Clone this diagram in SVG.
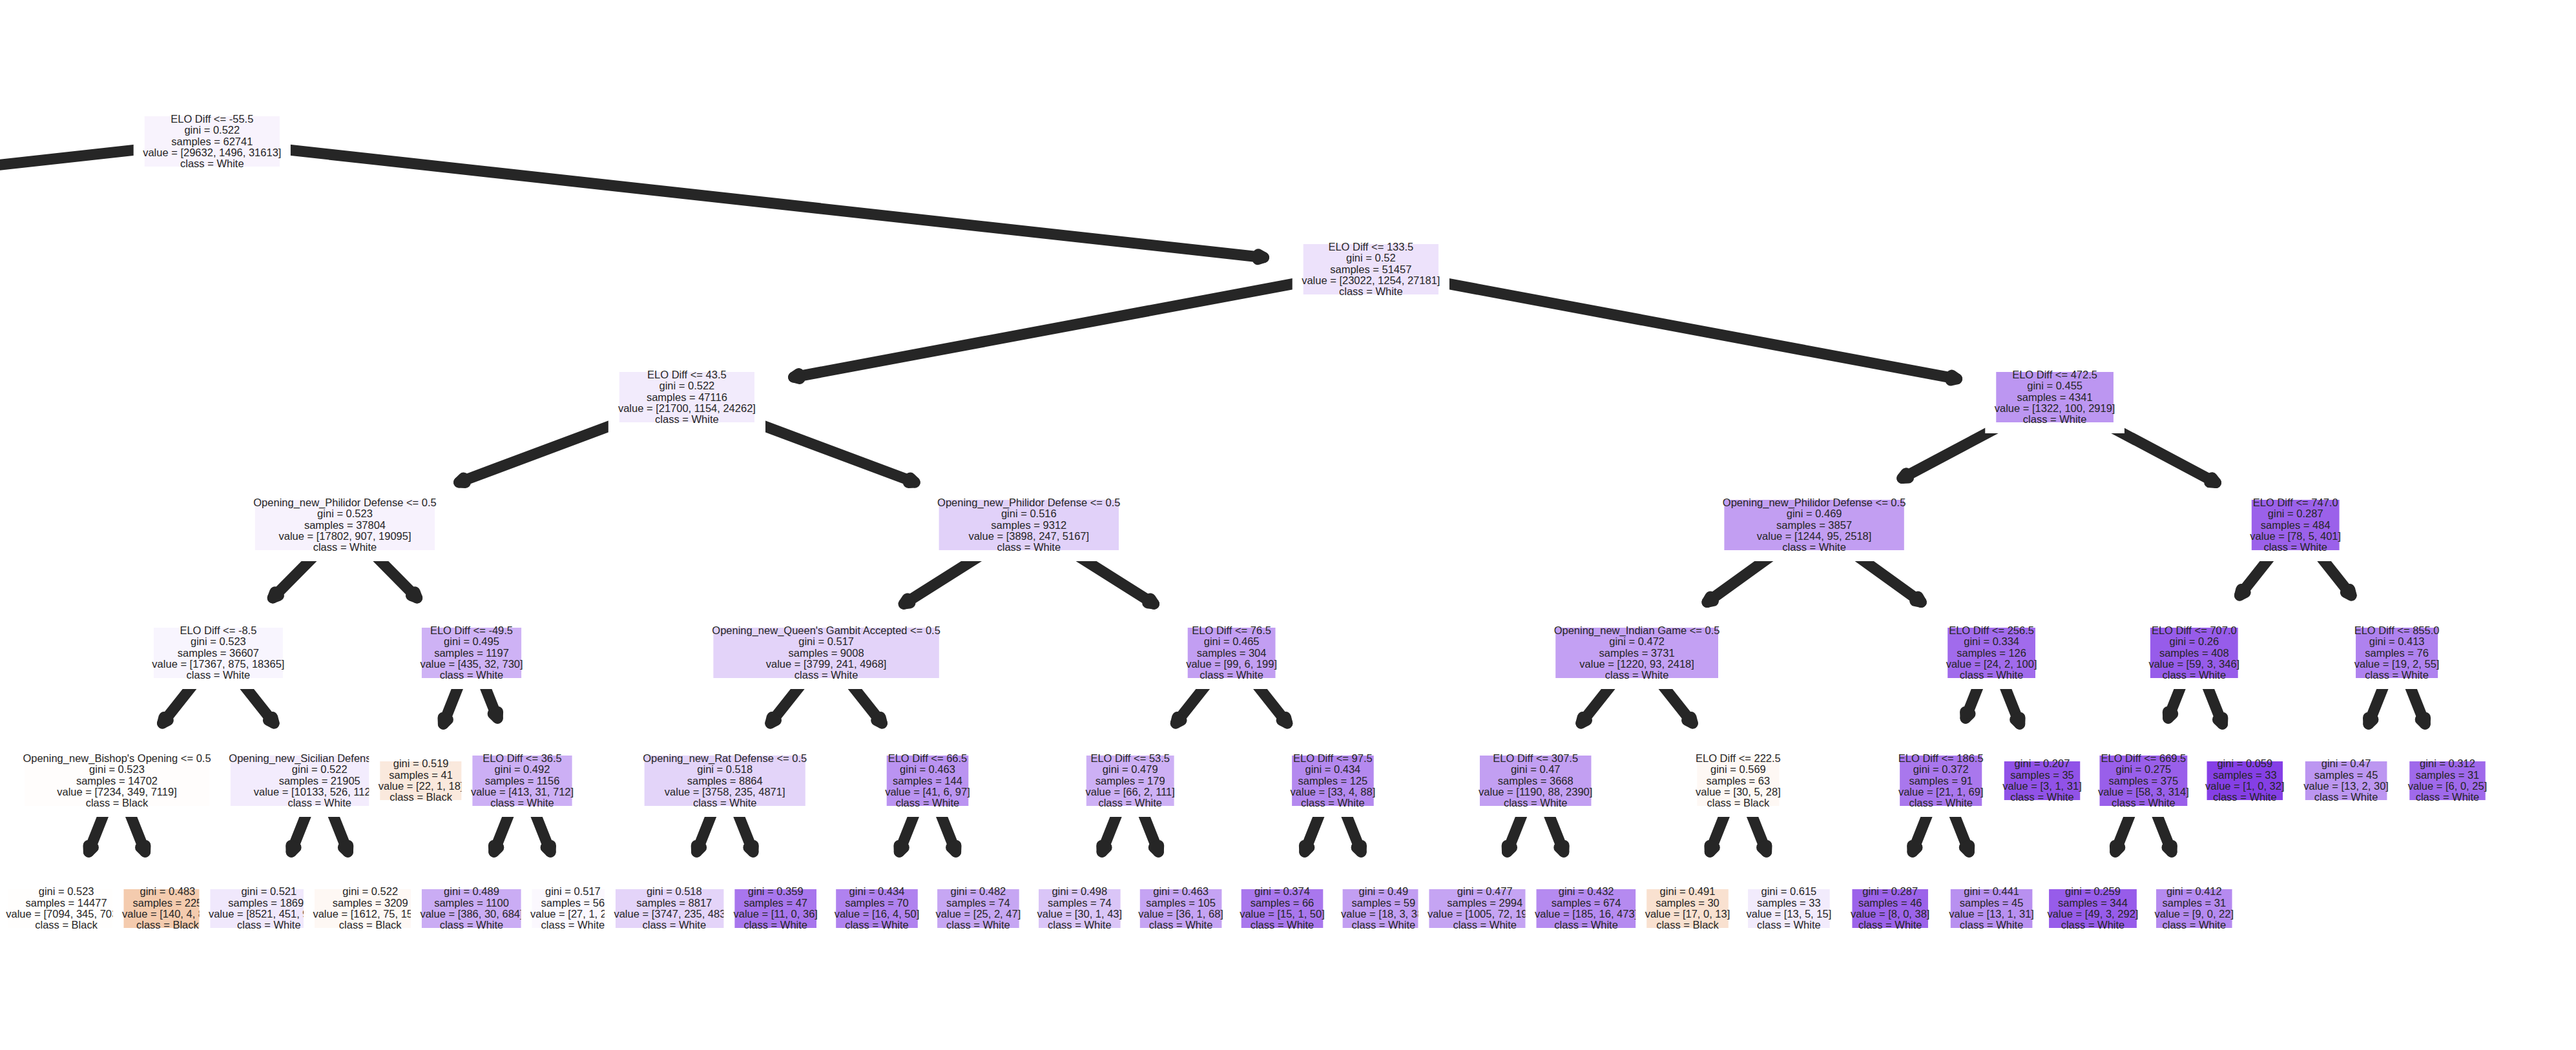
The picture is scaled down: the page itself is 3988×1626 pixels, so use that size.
<svg xmlns="http://www.w3.org/2000/svg" width="3988" height="1626" viewBox="0 0 3988 1626">
<style>
.b{stroke:#ffffff;stroke-width:17}
.t{font-family:"Liberation Sans",Arial,sans-serif;font-size:16.5px;fill:#262626;text-anchor:middle}
.e{fill:none;stroke:#262626;stroke-width:17;stroke-linecap:round}
.h{marker-start:url(#blob)}
</style>
<defs>
<marker id="blob" markerUnits="userSpaceOnUse" orient="auto" markerWidth="60" markerHeight="60" viewBox="-30 -30 60 60" refX="0" refY="0" overflow="visible">
<path d="M9,-4 L0,0 L9,4" fill="none" stroke="#262626" stroke-width="17" stroke-linecap="round" stroke-linejoin="round"/>
</marker>
</defs>
<rect width="3988" height="1626" fill="#ffffff"/>
<g id="connectors">
<path class="e" d="M328.3,219 L-1466.1,417"/>
<path class="e h" d="M1956.5,398.7 L328.3,219"/>
<path class="e h" d="M1228.6,584.1 L2122.3,417"/>
<path class="e h" d="M3029.6,586.7 L2122.3,417"/>
<path class="e h" d="M710.6,746.9 L1063.4,615"/>
<path class="e h" d="M1416.2,746.9 L1063.4,615"/>
<path class="e h" d="M2944.8,740.6 L3181.1,615"/>
<path class="e h" d="M3430.5,747.5 L3181.1,615"/>
<path class="e h" d="M422.2,925.9 L534,813"/>
<path class="e h" d="M645.7,925.9 L534,813"/>
<path class="e h" d="M1399.2,935.2 L1592.8,813"/>
<path class="e h" d="M1786.5,935.2 L1592.8,813"/>
<path class="e h" d="M2642.9,932.5 L2808.6,813"/>
<path class="e h" d="M2974.3,932.5 L2808.6,813"/>
<path class="e h" d="M3467.4,922 L3553.7,813"/>
<path class="e h" d="M3640.1,922 L3553.7,813"/>
<path class="e h" d="M251.55,1120 L337.9,1011"/>
<path class="e h" d="M424.15,1120 L337.9,1011"/>
<path class="e h" d="M686.4,1121.2 L730,1011"/>
<path class="e h" d="M770.2,1112.2 L730,1011"/>
<path class="e h" d="M1192.75,1120 L1279.1,1011"/>
<path class="e h" d="M1365.45,1120 L1279.1,1011"/>
<path class="e h" d="M1820.25,1120 L1906.6,1011"/>
<path class="e h" d="M1992.85,1120 L1906.6,1011"/>
<path class="e h" d="M2447.75,1120 L2534.1,1011"/>
<path class="e h" d="M2620.35,1120 L2534.1,1011"/>
<path class="e h" d="M3043,1112.2 L3083.1,1011"/>
<path class="e h" d="M3126.7,1121.2 L3083.1,1011"/>
<path class="e h" d="M3356.7,1112.2 L3396.8,1011"/>
<path class="e h" d="M3440.5,1121.2 L3396.8,1011"/>
<path class="e h" d="M3666.9,1121.2 L3710.6,1011"/>
<path class="e h" d="M3754.2,1121.2 L3710.6,1011"/>
<path class="e h" d="M137.4,1319.2 L181,1209"/>
<path class="e h" d="M224.6,1319.2 L181,1209"/>
<path class="e h" d="M451.1,1319.2 L494.7,1209"/>
<path class="e h" d="M538.4,1319.2 L494.7,1209"/>
<path class="e h" d="M764.8,1319.2 L808.5,1209"/>
<path class="e h" d="M852.1,1319.2 L808.5,1209"/>
<path class="e h" d="M1078.6,1319.2 L1122.2,1209"/>
<path class="e h" d="M1165.9,1319.2 L1122.2,1209"/>
<path class="e h" d="M1392.3,1319.2 L1436,1209"/>
<path class="e h" d="M1479.6,1319.2 L1436,1209"/>
<path class="e h" d="M1706.1,1319.2 L1749.7,1209"/>
<path class="e h" d="M1793.3,1319.2 L1749.7,1209"/>
<path class="e h" d="M2019.8,1319.2 L2063.4,1209"/>
<path class="e h" d="M2107.1,1319.2 L2063.4,1209"/>
<path class="e h" d="M2333.5,1319.2 L2377.2,1209"/>
<path class="e h" d="M2420.8,1319.2 L2377.2,1209"/>
<path class="e h" d="M2647.3,1319.2 L2690.9,1209"/>
<path class="e h" d="M2734.6,1319.2 L2690.9,1209"/>
<path class="e h" d="M2961,1319.2 L3004.7,1209"/>
<path class="e h" d="M3048.3,1319.2 L3004.7,1209"/>
<path class="e h" d="M3274.8,1319.2 L3318.4,1209"/>
<path class="e h" d="M3362,1319.2 L3318.4,1209"/>
</g>
<g id="level6">
<g id="leaf_l1"><rect class="b" x="3.25" y="1368.5" width="198.7" height="77" fill="#fffefd"/><text class="t" x="102.6" y="1386.4"><tspan x="102.6">gini = 0.523</tspan><tspan x="102.6" dy="17.3">samples = 14477</tspan><tspan x="102.6" dy="17.3">value = [7094, 345, 7038]</tspan><tspan x="102.6" dy="17.3">class = Black</tspan></text></g>
<g id="leaf_l2"><rect class="b" x="183" y="1368.5" width="152.8" height="77" fill="#f4cbae"/><text class="t" x="259.4" y="1386.4"><tspan x="259.4">gini = 0.483</tspan><tspan x="259.4" dy="17.3">samples = 225</tspan><tspan x="259.4" dy="17.3">value = [140, 4, 81]</tspan><tspan x="259.4" dy="17.3">class = Black</tspan></text></g>
<g id="leaf_l3"><rect class="b" x="316.95" y="1368.5" width="198.7" height="77" fill="#f0e8fc"/><text class="t" x="416.3" y="1386.4"><tspan x="416.3">gini = 0.521</tspan><tspan x="416.3" dy="17.3">samples = 18696</tspan><tspan x="416.3" dy="17.3">value = [8521, 451, 9724]</tspan><tspan x="416.3" dy="17.3">class = White</tspan></text></g>
<g id="leaf_l4"><rect class="b" x="478.45" y="1368.5" width="189.5" height="77" fill="#fef8f4"/><text class="t" x="573.2" y="1386.4"><tspan x="573.2">gini = 0.522</tspan><tspan x="573.2" dy="17.3">samples = 3209</tspan><tspan x="573.2" dy="17.3">value = [1612, 75, 1522]</tspan><tspan x="573.2" dy="17.3">class = Black</tspan></text></g>
<g id="leaf_l5"><rect class="b" x="644.4" y="1368.5" width="171.2" height="77" fill="#caacf4"/><text class="t" x="730" y="1386.4"><tspan x="730">gini = 0.489</tspan><tspan x="730" dy="17.3">samples = 1100</tspan><tspan x="730" dy="17.3">value = [386, 30, 684]</tspan><tspan x="730" dy="17.3">class = White</tspan></text></g>
<g id="leaf_l6"><rect class="b" x="815.1" y="1368.5" width="143.6" height="77" fill="#fbf8fe"/><text class="t" x="886.9" y="1386.4"><tspan x="886.9">gini = 0.517</tspan><tspan x="886.9" dy="17.3">samples = 56</tspan><tspan x="886.9" dy="17.3">value = [27, 1, 28]</tspan><tspan x="886.9" dy="17.3">class = White</tspan></text></g>
<g id="leaf_l7"><rect class="b" x="944.45" y="1368.5" width="198.7" height="77" fill="#e4d4f9"/><text class="t" x="1043.8" y="1386.4"><tspan x="1043.8">gini = 0.518</tspan><tspan x="1043.8" dy="17.3">samples = 8817</tspan><tspan x="1043.8" dy="17.3">value = [3747, 235, 4835]</tspan><tspan x="1043.8" dy="17.3">class = White</tspan></text></g>
<g id="leaf_l8"><rect class="b" x="1128.9" y="1368.5" width="143.6" height="77" fill="#a876ed"/><text class="t" x="1200.7" y="1386.4"><tspan x="1200.7">gini = 0.359</tspan><tspan x="1200.7" dy="17.3">samples = 47</tspan><tspan x="1200.7" dy="17.3">value = [11, 0, 36]</tspan><tspan x="1200.7" dy="17.3">class = White</tspan></text></g>
<g id="leaf_l9"><rect class="b" x="1285.7" y="1368.5" width="143.6" height="77" fill="#b082ef"/><text class="t" x="1357.5" y="1386.4"><tspan x="1357.5">gini = 0.434</tspan><tspan x="1357.5" dy="17.3">samples = 70</tspan><tspan x="1357.5" dy="17.3">value = [16, 4, 50]</tspan><tspan x="1357.5" dy="17.3">class = White</tspan></text></g>
<g id="leaf_l10"><rect class="b" x="1442.6" y="1368.5" width="143.6" height="77" fill="#c6a6f3"/><text class="t" x="1514.4" y="1386.4"><tspan x="1514.4">gini = 0.482</tspan><tspan x="1514.4" dy="17.3">samples = 74</tspan><tspan x="1514.4" dy="17.3">value = [25, 2, 47]</tspan><tspan x="1514.4" dy="17.3">class = White</tspan></text></g>
<g id="leaf_l11"><rect class="b" x="1599.5" y="1368.5" width="143.6" height="77" fill="#dac5f7"/><text class="t" x="1671.3" y="1386.4"><tspan x="1671.3">gini = 0.498</tspan><tspan x="1671.3" dy="17.3">samples = 74</tspan><tspan x="1671.3" dy="17.3">value = [30, 1, 43]</tspan><tspan x="1671.3" dy="17.3">class = White</tspan></text></g>
<g id="leaf_l12"><rect class="b" x="1756.3" y="1368.5" width="143.6" height="77" fill="#c5a3f3"/><text class="t" x="1828.1" y="1386.4"><tspan x="1828.1">gini = 0.463</tspan><tspan x="1828.1" dy="17.3">samples = 105</tspan><tspan x="1828.1" dy="17.3">value = [36, 1, 68]</tspan><tspan x="1828.1" dy="17.3">class = White</tspan></text></g>
<g id="leaf_l13"><rect class="b" x="1913.2" y="1368.5" width="143.6" height="77" fill="#a977ed"/><text class="t" x="1985" y="1386.4"><tspan x="1985">gini = 0.374</tspan><tspan x="1985" dy="17.3">samples = 66</tspan><tspan x="1985" dy="17.3">value = [15, 1, 50]</tspan><tspan x="1985" dy="17.3">class = White</tspan></text></g>
<g id="leaf_l14"><rect class="b" x="2070.1" y="1368.5" width="143.6" height="77" fill="#c29ef2"/><text class="t" x="2141.9" y="1386.4"><tspan x="2141.9">gini = 0.49</tspan><tspan x="2141.9" dy="17.3">samples = 59</tspan><tspan x="2141.9" dy="17.3">value = [18, 3, 38]</tspan><tspan x="2141.9" dy="17.3">class = White</tspan></text></g>
<g id="leaf_l15"><rect class="b" x="2203.95" y="1368.5" width="189.5" height="77" fill="#c5a4f3"/><text class="t" x="2298.7" y="1386.4"><tspan x="2298.7">gini = 0.477</tspan><tspan x="2298.7" dy="17.3">samples = 2994</tspan><tspan x="2298.7" dy="17.3">value = [1005, 72, 1917]</tspan><tspan x="2298.7" dy="17.3">class = White</tspan></text></g>
<g id="leaf_l16"><rect class="b" x="2370" y="1368.5" width="171.2" height="77" fill="#b58af0"/><text class="t" x="2455.6" y="1386.4"><tspan x="2455.6">gini = 0.432</tspan><tspan x="2455.6" dy="17.3">samples = 674</tspan><tspan x="2455.6" dy="17.3">value = [185, 16, 473]</tspan><tspan x="2455.6" dy="17.3">class = White</tspan></text></g>
<g id="leaf_l17"><rect class="b" x="2540.7" y="1368.5" width="143.6" height="77" fill="#f9e1d0"/><text class="t" x="2612.5" y="1386.4"><tspan x="2612.5">gini = 0.491</tspan><tspan x="2612.5" dy="17.3">samples = 30</tspan><tspan x="2612.5" dy="17.3">value = [17, 0, 13]</tspan><tspan x="2612.5" dy="17.3">class = Black</tspan></text></g>
<g id="leaf_l18"><rect class="b" x="2697.6" y="1368.5" width="143.6" height="77" fill="#f2ebfc"/><text class="t" x="2769.4" y="1386.4"><tspan x="2769.4">gini = 0.615</tspan><tspan x="2769.4" dy="17.3">samples = 33</tspan><tspan x="2769.4" dy="17.3">value = [13, 5, 15]</tspan><tspan x="2769.4" dy="17.3">class = White</tspan></text></g>
<g id="leaf_l19"><rect class="b" x="2858.95" y="1368.5" width="134.5" height="77" fill="#9c63ea"/><text class="t" x="2926.2" y="1386.4"><tspan x="2926.2">gini = 0.287</tspan><tspan x="2926.2" dy="17.3">samples = 46</tspan><tspan x="2926.2" dy="17.3">value = [8, 0, 38]</tspan><tspan x="2926.2" dy="17.3">class = White</tspan></text></g>
<g id="leaf_l20"><rect class="b" x="3011.3" y="1368.5" width="143.6" height="77" fill="#b890f0"/><text class="t" x="3083.1" y="1386.4"><tspan x="3083.1">gini = 0.441</tspan><tspan x="3083.1" dy="17.3">samples = 45</tspan><tspan x="3083.1" dy="17.3">value = [13, 1, 31]</tspan><tspan x="3083.1" dy="17.3">class = White</tspan></text></g>
<g id="leaf_l21"><rect class="b" x="3163.6" y="1368.5" width="152.8" height="77" fill="#975cea"/><text class="t" x="3240" y="1386.4"><tspan x="3240">gini = 0.259</tspan><tspan x="3240" dy="17.3">samples = 344</tspan><tspan x="3240" dy="17.3">value = [49, 3, 292]</tspan><tspan x="3240" dy="17.3">class = White</tspan></text></g>
<g id="leaf_l22"><rect class="b" x="3329.55" y="1368.5" width="134.5" height="77" fill="#b58af0"/><text class="t" x="3396.8" y="1386.4"><tspan x="3396.8">gini = 0.412</tspan><tspan x="3396.8" dy="17.3">samples = 31</tspan><tspan x="3396.8" dy="17.3">value = [9, 0, 22]</tspan><tspan x="3396.8" dy="17.3">class = White</tspan></text></g>
</g>
<g id="level5">
<g id="node_bishop"><rect class="b" x="29.4" y="1161.5" width="303.2" height="95" fill="#fffdfc"/><text class="t" x="181" y="1179.9"><tspan x="181">Opening_new_Bishop's Opening &lt;= 0.5</tspan><tspan x="181" dy="17.3">gini = 0.523</tspan><tspan x="181" dy="17.3">samples = 14702</tspan><tspan x="181" dy="17.3">value = [7234, 349, 7119]</tspan><tspan x="181" dy="17.3">class = Black</tspan></text></g>
<g id="node_sicilian"><rect class="b" x="348.4" y="1161.5" width="292.6" height="95" fill="#f3ecfd"/><text class="t" x="494.7" y="1179.9"><tspan x="494.7">Opening_new_Sicilian Defense &lt;= 0.5</tspan><tspan x="494.7" dy="17.3">gini = 0.522</tspan><tspan x="494.7" dy="17.3">samples = 21905</tspan><tspan x="494.7" dy="17.3">value = [10133, 526, 11246]</tspan><tspan x="494.7" dy="17.3">class = White</tspan></text></g>
<g id="leaf_519"><rect class="b" x="579.8" y="1170.5" width="143.6" height="77" fill="#fae9dd"/><text class="t" x="651.6" y="1188.4"><tspan x="651.6">gini = 0.519</tspan><tspan x="651.6" dy="17.3">samples = 41</tspan><tspan x="651.6" dy="17.3">value = [22, 1, 18]</tspan><tspan x="651.6" dy="17.3">class = Black</tspan></text></g>
<g id="node_36_5"><rect class="b" x="722.9" y="1161.5" width="171.2" height="95" fill="#ccaff5"/><text class="t" x="808.5" y="1179.9"><tspan x="808.5">ELO Diff &lt;= 36.5</tspan><tspan x="808.5" dy="17.3">gini = 0.492</tspan><tspan x="808.5" dy="17.3">samples = 1156</tspan><tspan x="808.5" dy="17.3">value = [413, 31, 712]</tspan><tspan x="808.5" dy="17.3">class = White</tspan></text></g>
<g id="node_rat"><rect class="b" x="989.15" y="1161.5" width="266.1" height="95" fill="#e3d4f9"/><text class="t" x="1122.2" y="1179.9"><tspan x="1122.2">Opening_new_Rat Defense &lt;= 0.5</tspan><tspan x="1122.2" dy="17.3">gini = 0.518</tspan><tspan x="1122.2" dy="17.3">samples = 8864</tspan><tspan x="1122.2" dy="17.3">value = [3758, 235, 4871]</tspan><tspan x="1122.2" dy="17.3">class = White</tspan></text></g>
<g id="node_66_5"><rect class="b" x="1364.2" y="1161.5" width="143.6" height="95" fill="#ba93f1"/><text class="t" x="1436" y="1179.9"><tspan x="1436">ELO Diff &lt;= 66.5</tspan><tspan x="1436" dy="17.3">gini = 0.463</tspan><tspan x="1436" dy="17.3">samples = 144</tspan><tspan x="1436" dy="17.3">value = [41, 6, 97]</tspan><tspan x="1436" dy="17.3">class = White</tspan></text></g>
<g id="node_53_5"><rect class="b" x="1673.3" y="1161.5" width="152.8" height="95" fill="#cdb0f5"/><text class="t" x="1749.7" y="1179.9"><tspan x="1749.7">ELO Diff &lt;= 53.5</tspan><tspan x="1749.7" dy="17.3">gini = 0.479</tspan><tspan x="1749.7" dy="17.3">samples = 179</tspan><tspan x="1749.7" dy="17.3">value = [66, 2, 111]</tspan><tspan x="1749.7" dy="17.3">class = White</tspan></text></g>
<g id="node_97_5"><rect class="b" x="1991.6" y="1161.5" width="143.6" height="95" fill="#b489ef"/><text class="t" x="2063.4" y="1179.9"><tspan x="2063.4">ELO Diff &lt;= 97.5</tspan><tspan x="2063.4" dy="17.3">gini = 0.434</tspan><tspan x="2063.4" dy="17.3">samples = 125</tspan><tspan x="2063.4" dy="17.3">value = [33, 4, 88]</tspan><tspan x="2063.4" dy="17.3">class = White</tspan></text></g>
<g id="node_307_5"><rect class="b" x="2282.45" y="1161.5" width="189.5" height="95" fill="#c29ff2"/><text class="t" x="2377.2" y="1179.9"><tspan x="2377.2">ELO Diff &lt;= 307.5</tspan><tspan x="2377.2" dy="17.3">gini = 0.47</tspan><tspan x="2377.2" dy="17.3">samples = 3668</tspan><tspan x="2377.2" dy="17.3">value = [1190, 88, 2390]</tspan><tspan x="2377.2" dy="17.3">class = White</tspan></text></g>
<g id="node_222_5"><rect class="b" x="2618.85" y="1161.5" width="144.1" height="95" fill="#fef8f4"/><text class="t" x="2690.9" y="1179.9"><tspan x="2690.9">ELO Diff &lt;= 222.5</tspan><tspan x="2690.9" dy="17.3">gini = 0.569</tspan><tspan x="2690.9" dy="17.3">samples = 63</tspan><tspan x="2690.9" dy="17.3">value = [30, 5, 28]</tspan><tspan x="2690.9" dy="17.3">class = Black</tspan></text></g>
<g id="node_186_5"><rect class="b" x="2932.65" y="1161.5" width="144.1" height="95" fill="#a977ed"/><text class="t" x="3004.7" y="1179.9"><tspan x="3004.7">ELO Diff &lt;= 186.5</tspan><tspan x="3004.7" dy="17.3">gini = 0.372</tspan><tspan x="3004.7" dy="17.3">samples = 91</tspan><tspan x="3004.7" dy="17.3">value = [21, 1, 69]</tspan><tspan x="3004.7" dy="17.3">class = White</tspan></text></g>
<g id="leaf_207"><rect class="b" x="3094.25" y="1170.5" width="134.5" height="77" fill="#9152e8"/><text class="t" x="3161.5" y="1188.4"><tspan x="3161.5">gini = 0.207</tspan><tspan x="3161.5" dy="17.3">samples = 35</tspan><tspan x="3161.5" dy="17.3">value = [3, 1, 31]</tspan><tspan x="3161.5" dy="17.3">class = White</tspan></text></g>
<g id="node_669_5"><rect class="b" x="3242" y="1161.5" width="152.8" height="95" fill="#995fea"/><text class="t" x="3318.4" y="1179.9"><tspan x="3318.4">ELO Diff &lt;= 669.5</tspan><tspan x="3318.4" dy="17.3">gini = 0.275</tspan><tspan x="3318.4" dy="17.3">samples = 375</tspan><tspan x="3318.4" dy="17.3">value = [58, 3, 314]</tspan><tspan x="3318.4" dy="17.3">class = White</tspan></text></g>
<g id="leaf_059"><rect class="b" x="3408.05" y="1170.5" width="134.5" height="77" fill="#853fe6"/><text class="t" x="3475.3" y="1188.4"><tspan x="3475.3">gini = 0.059</tspan><tspan x="3475.3" dy="17.3">samples = 33</tspan><tspan x="3475.3" dy="17.3">value = [1, 0, 32]</tspan><tspan x="3475.3" dy="17.3">class = White</tspan></text></g>
<g id="leaf_47"><rect class="b" x="3560.3" y="1170.5" width="143.6" height="77" fill="#bc96f1"/><text class="t" x="3632.1" y="1188.4"><tspan x="3632.1">gini = 0.47</tspan><tspan x="3632.1" dy="17.3">samples = 45</tspan><tspan x="3632.1" dy="17.3">value = [13, 2, 30]</tspan><tspan x="3632.1" dy="17.3">class = White</tspan></text></g>
<g id="leaf_312"><rect class="b" x="3721.75" y="1170.5" width="134.5" height="77" fill="#9f69eb"/><text class="t" x="3789" y="1188.4"><tspan x="3789">gini = 0.312</tspan><tspan x="3789" dy="17.3">samples = 31</tspan><tspan x="3789" dy="17.3">value = [6, 0, 25]</tspan><tspan x="3789" dy="17.3">class = White</tspan></text></g>
</g>
<g id="level4">
<g id="node_m8_5"><rect class="b" x="229.4" y="963.5" width="217" height="95" fill="#f8f5fe"/><text class="t" x="337.9" y="981.9"><tspan x="337.9">ELO Diff &lt;= -8.5</tspan><tspan x="337.9" dy="17.3">gini = 0.523</tspan><tspan x="337.9" dy="17.3">samples = 36607</tspan><tspan x="337.9" dy="17.3">value = [17367, 875, 18365]</tspan><tspan x="337.9" dy="17.3">class = White</tspan></text></g>
<g id="node_m49_5"><rect class="b" x="644.4" y="963.5" width="171.2" height="95" fill="#ceb2f5"/><text class="t" x="730" y="981.9"><tspan x="730">ELO Diff &lt;= -49.5</tspan><tspan x="730" dy="17.3">gini = 0.495</tspan><tspan x="730" dy="17.3">samples = 1197</tspan><tspan x="730" dy="17.3">value = [435, 32, 730]</tspan><tspan x="730" dy="17.3">class = White</tspan></text></g>
<g id="node_qga"><rect class="b" x="1095.9" y="963.5" width="366.4" height="95" fill="#e3d3f9"/><text class="t" x="1279.1" y="981.9"><tspan x="1279.1">Opening_new_Queen's Gambit Accepted &lt;= 0.5</tspan><tspan x="1279.1" dy="17.3">gini = 0.517</tspan><tspan x="1279.1" dy="17.3">samples = 9008</tspan><tspan x="1279.1" dy="17.3">value = [3799, 241, 4968]</tspan><tspan x="1279.1" dy="17.3">class = White</tspan></text></g>
<g id="node_76_5"><rect class="b" x="1830.2" y="963.5" width="152.8" height="95" fill="#c29ef2"/><text class="t" x="1906.6" y="981.9"><tspan x="1906.6">ELO Diff &lt;= 76.5</tspan><tspan x="1906.6" dy="17.3">gini = 0.465</tspan><tspan x="1906.6" dy="17.3">samples = 304</tspan><tspan x="1906.6" dy="17.3">value = [99, 6, 199]</tspan><tspan x="1906.6" dy="17.3">class = White</tspan></text></g>
<g id="node_indian"><rect class="b" x="2399.7" y="963.5" width="268.8" height="95" fill="#c3a0f3"/><text class="t" x="2534.1" y="981.9"><tspan x="2534.1">Opening_new_Indian Game &lt;= 0.5</tspan><tspan x="2534.1" dy="17.3">gini = 0.472</tspan><tspan x="2534.1" dy="17.3">samples = 3731</tspan><tspan x="2534.1" dy="17.3">value = [1220, 93, 2418]</tspan><tspan x="2534.1" dy="17.3">class = White</tspan></text></g>
<g id="node_256_5"><rect class="b" x="3006.7" y="963.5" width="152.8" height="95" fill="#a16bec"/><text class="t" x="3083.1" y="981.9"><tspan x="3083.1">ELO Diff &lt;= 256.5</tspan><tspan x="3083.1" dy="17.3">gini = 0.334</tspan><tspan x="3083.1" dy="17.3">samples = 126</tspan><tspan x="3083.1" dy="17.3">value = [24, 2, 100]</tspan><tspan x="3083.1" dy="17.3">class = White</tspan></text></g>
<g id="node_707"><rect class="b" x="3320.4" y="963.5" width="152.8" height="95" fill="#975cea"/><text class="t" x="3396.8" y="981.9"><tspan x="3396.8">ELO Diff &lt;= 707.0</tspan><tspan x="3396.8" dy="17.3">gini = 0.26</tspan><tspan x="3396.8" dy="17.3">samples = 408</tspan><tspan x="3396.8" dy="17.3">value = [59, 3, 346]</tspan><tspan x="3396.8" dy="17.3">class = White</tspan></text></g>
<g id="node_855"><rect class="b" x="3638.55" y="963.5" width="144.1" height="95" fill="#af82ef"/><text class="t" x="3710.6" y="981.9"><tspan x="3710.6">ELO Diff &lt;= 855.0</tspan><tspan x="3710.6" dy="17.3">gini = 0.413</tspan><tspan x="3710.6" dy="17.3">samples = 76</tspan><tspan x="3710.6" dy="17.3">value = [19, 2, 55]</tspan><tspan x="3710.6" dy="17.3">class = White</tspan></text></g>
</g>
<g id="level3">
<g id="node_philidor_a"><rect class="b" x="386.3" y="765.5" width="295.4" height="95" fill="#f7f2fd"/><text class="t" x="534" y="783.9"><tspan x="534">Opening_new_Philidor Defense &lt;= 0.5</tspan><tspan x="534" dy="17.3">gini = 0.523</tspan><tspan x="534" dy="17.3">samples = 37804</tspan><tspan x="534" dy="17.3">value = [17802, 907, 19095]</tspan><tspan x="534" dy="17.3">class = White</tspan></text></g>
<g id="node_philidor_b"><rect class="b" x="1445.1" y="765.5" width="295.4" height="95" fill="#e1d1f9"/><text class="t" x="1592.8" y="783.9"><tspan x="1592.8">Opening_new_Philidor Defense &lt;= 0.5</tspan><tspan x="1592.8" dy="17.3">gini = 0.516</tspan><tspan x="1592.8" dy="17.3">samples = 9312</tspan><tspan x="1592.8" dy="17.3">value = [3898, 247, 5167]</tspan><tspan x="1592.8" dy="17.3">class = White</tspan></text></g>
<g id="node_philidor_c"><rect class="b" x="2660.9" y="765.5" width="295.4" height="95" fill="#c29ef2"/><text class="t" x="2808.6" y="783.9"><tspan x="2808.6">Opening_new_Philidor Defense &lt;= 0.5</tspan><tspan x="2808.6" dy="17.3">gini = 0.469</tspan><tspan x="2808.6" dy="17.3">samples = 3857</tspan><tspan x="2808.6" dy="17.3">value = [1244, 95, 2518]</tspan><tspan x="2808.6" dy="17.3">class = White</tspan></text></g>
<g id="node_747"><rect class="b" x="3477.3" y="765.5" width="152.8" height="95" fill="#9b61ea"/><text class="t" x="3553.7" y="783.9"><tspan x="3553.7">ELO Diff &lt;= 747.0</tspan><tspan x="3553.7" dy="17.3">gini = 0.287</tspan><tspan x="3553.7" dy="17.3">samples = 484</tspan><tspan x="3553.7" dy="17.3">value = [78, 5, 401]</tspan><tspan x="3553.7" dy="17.3">class = White</tspan></text></g>
</g>
<g id="level2">
<g id="node_43_5"><rect class="b" x="950.3" y="567.5" width="226.2" height="95" fill="#f2ebfc"/><text class="t" x="1063.4" y="585.9"><tspan x="1063.4">ELO Diff &lt;= 43.5</tspan><tspan x="1063.4" dy="17.3">gini = 0.522</tspan><tspan x="1063.4" dy="17.3">samples = 47116</tspan><tspan x="1063.4" dy="17.3">value = [21700, 1154, 24262]</tspan><tspan x="1063.4" dy="17.3">class = White</tspan></text></g>
<g id="node_472_5"><rect class="b" x="3081.75" y="567.5" width="198.7" height="95" fill="#bc96f1"/><text class="t" x="3181.1" y="585.9"><tspan x="3181.1">ELO Diff &lt;= 472.5</tspan><tspan x="3181.1" dy="17.3">gini = 0.455</tspan><tspan x="3181.1" dy="17.3">samples = 4341</tspan><tspan x="3181.1" dy="17.3">value = [1322, 100, 2919]</tspan><tspan x="3181.1" dy="17.3">class = White</tspan></text></g>
</g>
<g id="level1">
<g id="node_133_5"><rect class="b" x="2009.2" y="369.5" width="226.2" height="95" fill="#ede2fb"/><text class="t" x="2122.3" y="387.9"><tspan x="2122.3">ELO Diff &lt;= 133.5</tspan><tspan x="2122.3" dy="17.3">gini = 0.52</tspan><tspan x="2122.3" dy="17.3">samples = 51457</tspan><tspan x="2122.3" dy="17.3">value = [23022, 1254, 27181]</tspan><tspan x="2122.3" dy="17.3">class = White</tspan></text></g>
</g>
<g id="root">
<g id="node_root"><rect class="b" x="215.2" y="171.5" width="226.2" height="95" fill="#f8f3fd"/><text class="t" x="328.3" y="189.9"><tspan x="328.3">ELO Diff &lt;= -55.5</tspan><tspan x="328.3" dy="17.3">gini = 0.522</tspan><tspan x="328.3" dy="17.3">samples = 62741</tspan><tspan x="328.3" dy="17.3">value = [29632, 1496, 31613]</tspan><tspan x="328.3" dy="17.3">class = White</tspan></text></g>
</g>
</svg>
